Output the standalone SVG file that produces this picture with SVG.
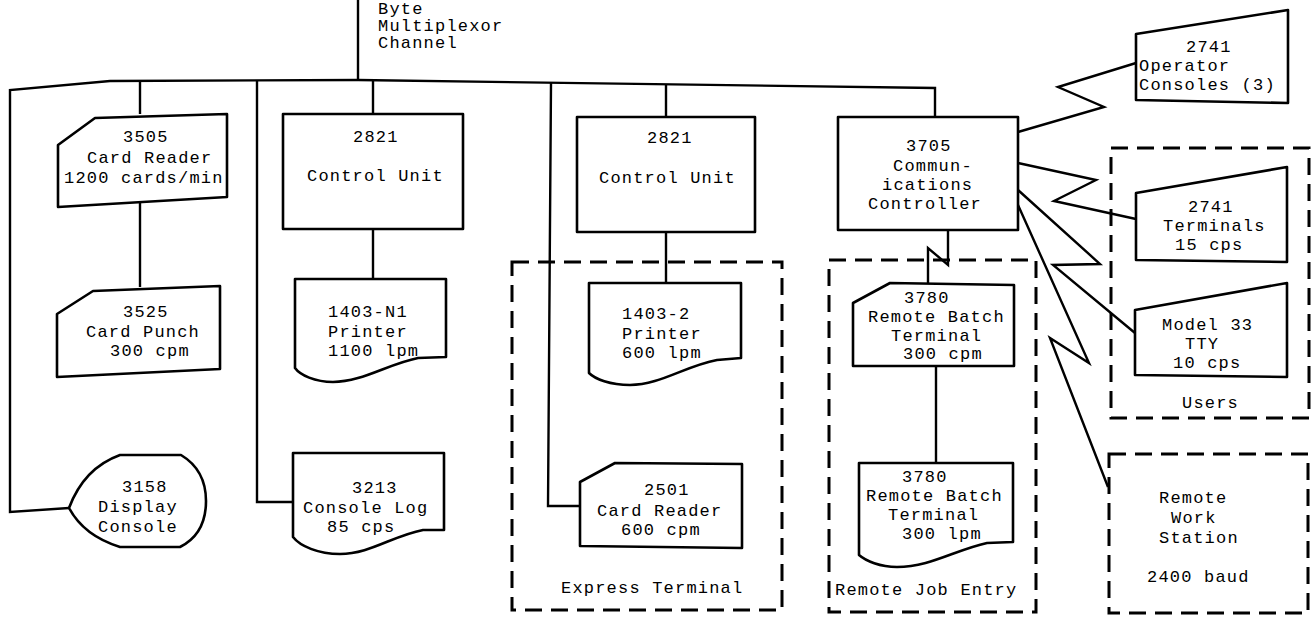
<svg xmlns="http://www.w3.org/2000/svg" width="1313" height="618" viewBox="0 0 1313 618">
<style>
.n{fill:#fff;stroke:#000;stroke-width:2.6;stroke-linejoin:round}
.c{fill:none;stroke:#000;stroke-width:2.4;stroke-linejoin:miter}
.d{fill:none;stroke:#000;stroke-width:3;stroke-dasharray:17 9}
text{font-family:"Liberation Mono","Courier New",monospace;font-size:17px;letter-spacing:1.2px;fill:#000}
</style>
<rect width="1313" height="618" fill="#fff"/>
<g id="groups">
<rect id="express" class="d" x="512" y="262" width="270" height="348"/>
<rect id="rje" class="d" x="829" y="260" width="207" height="352"/>
<rect id="users" class="d" x="1111" y="148" width="198" height="270"/>
<rect id="rws" class="d" x="1109" y="454" width="199" height="159"/>
</g>
<g id="connectors">
<path class="c" d="M358,0 L358,80"/>
<path class="c" d="M69,508 L10,512 L10,90 L110,81 L358,80 L935,88 L935,117"/>
<path class="c" d="M140,81 L140,114"/>
<path class="c" d="M140,200 L140,287"/>
<path class="c" d="M257,81 L257,502 L293,502"/>
<path class="c" d="M373,81 L373,114"/>
<path class="c" d="M373,229 L373,279"/>
<path class="c" d="M551,83 L548,506 L580,506"/>
<path class="c" d="M666,84 L666,117"/>
<path class="c" d="M666,232 L666,283"/>
<path class="c" d="M948,230 L948,265 L928,248 L928,283"/>
<path class="c" d="M936,366 L936,463"/>
<path class="c" d="M1018,132 L1104,107 L1058,87 L1136,63"/>
<path class="c" d="M1018,163 L1096,180 L1054,201 L1136,219"/>
<path class="c" d="M1018,190 L1100,264 L1053,265 L1135,333"/>
<path class="c" d="M1018,205 L1089,363 L1050,338 L1108,487"/>
</g>
<g id="n3505">
<path class="n" d="M58,145 L95,118 L227,114 L227,197 L58,207 Z"/>
<text x="123" y="142">3505</text>
<text x="87" y="163">Card Reader</text>
<text x="64" y="183">1200 cards/min</text>
</g>
<g id="n3525">
<path class="n" d="M57,314 L93,291 L220,286 L220,369 L57,377 Z"/>
<text x="123" y="317">3525</text>
<text x="86" y="337">Card Punch</text>
<text x="110" y="356">300 cpm</text>
</g>
<g id="n3158">
<path class="n" d="M69,508 Q84,468 120,455 L181,455 Q206,470 206,501 Q206,534 180,547 L120,547 Q84,536 69,508 Z"/>
<text x="122" y="492">3158</text>
<text x="98" y="512">Display</text>
<text x="98" y="532">Console</text>
</g>
<g id="n2821a">
<rect class="n" x="283" y="114" width="180" height="115"/>
<text x="353" y="142">2821</text>
<text x="307" y="181">Control Unit</text>
</g>
<g id="n1403n1">
<path class="n" d="M295,279 L446,279 L446,357 L418,358 C388,364 362,382 333,382 C315,382 300,375 295,368 Z"/>
<text x="328" y="317">1403-N1</text>
<text x="328" y="337">Printer</text>
<text x="328" y="356">1100 lpm</text>
</g>
<g id="n3213">
<path class="n" d="M293,453 L444,453 L444,530 L423,530 C392,536 370,554 340,554 C318,554 300,546 293,537 Z"/>
<text x="352" y="493">3213</text>
<text x="303" y="513">Console Log</text>
<text x="327" y="532">85 cps</text>
</g>
<g id="n2821b">
<rect class="n" x="577" y="117" width="178" height="115"/>
<text x="647" y="143">2821</text>
<text x="599" y="183">Control Unit</text>
</g>
<g id="n1403-2">
<path class="n" d="M589,283 L741,283 L741,358 L717,360 C685,366 660,385 630,385 C610,385 595,379 589,373 Z"/>
<text x="622" y="319">1403-2</text>
<text x="622" y="339">Printer</text>
<text x="622" y="358">600 lpm</text>
</g>
<g id="n2501">
<path class="n" d="M580,482 L615,463 L742,464 L742,548 L580,546 Z"/>
<text x="644" y="495">2501</text>
<text x="597" y="516">Card Reader</text>
<text x="621" y="535">600 cpm</text>
</g>
<text x="561" y="593">Express Terminal</text>
<g id="n3705">
<rect class="n" x="838" y="117" width="180" height="113"/>
<text x="906" y="151">3705</text>
<text x="893" y="171">Commun-</text>
<text x="882" y="190">ications</text>
<text x="868" y="209">Controller</text>
</g>
<g id="n3780a">
<path class="n" d="M853,303 L890,283 L1014,285 L1014,366 L853,366 Z"/>
<text x="904" y="303">3780</text>
<text x="868" y="322">Remote Batch</text>
<text x="891" y="341">Terminal</text>
<text x="903" y="359">300 cpm</text>
</g>
<g id="n3780b">
<path class="n" d="M859,463 L1013,463 L1013,542 L987,543 C955,550 930,567 897,567 C880,567 866,561 859,555 Z"/>
<text x="902" y="482">3780</text>
<text x="866" y="501">Remote Batch</text>
<text x="888" y="520">Terminal</text>
<text x="902" y="539">300 lpm</text>
</g>
<text x="835" y="595">Remote Job Entry</text>
<g id="n2741op">
<path class="n" d="M1136,34 L1288,10 L1288,103 L1136,100 Z"/>
<text x="1186" y="52">2741</text>
<text x="1139" y="71">Operator</text>
<text x="1139" y="90">Consoles (3)</text>
</g>
<g id="n2741t">
<path class="n" d="M1136,193 L1287,167 L1287,262 L1136,260 Z"/>
<text x="1188" y="212">2741</text>
<text x="1163" y="231">Terminals</text>
<text x="1175" y="250">15 cps</text>
</g>
<g id="ntty">
<path class="n" d="M1135,310 L1287,283 L1287,377 L1135,375 Z"/>
<text x="1162" y="330">Model 33</text>
<text x="1185" y="349">TTY</text>
<text x="1173" y="368">10 cps</text>
</g>
<text x="1182" y="408">Users</text>
<g id="nrws">
<text x="1159" y="503">Remote</text>
<text x="1171" y="523">Work</text>
<text x="1159" y="543">Station</text>
<text x="1147" y="582">2400 baud</text>
</g>
<g id="channel">
<text x="378" y="14">Byte</text>
<text x="378" y="31">Multiplexor</text>
<text x="378" y="48">Channel</text>
</g>
</svg>
